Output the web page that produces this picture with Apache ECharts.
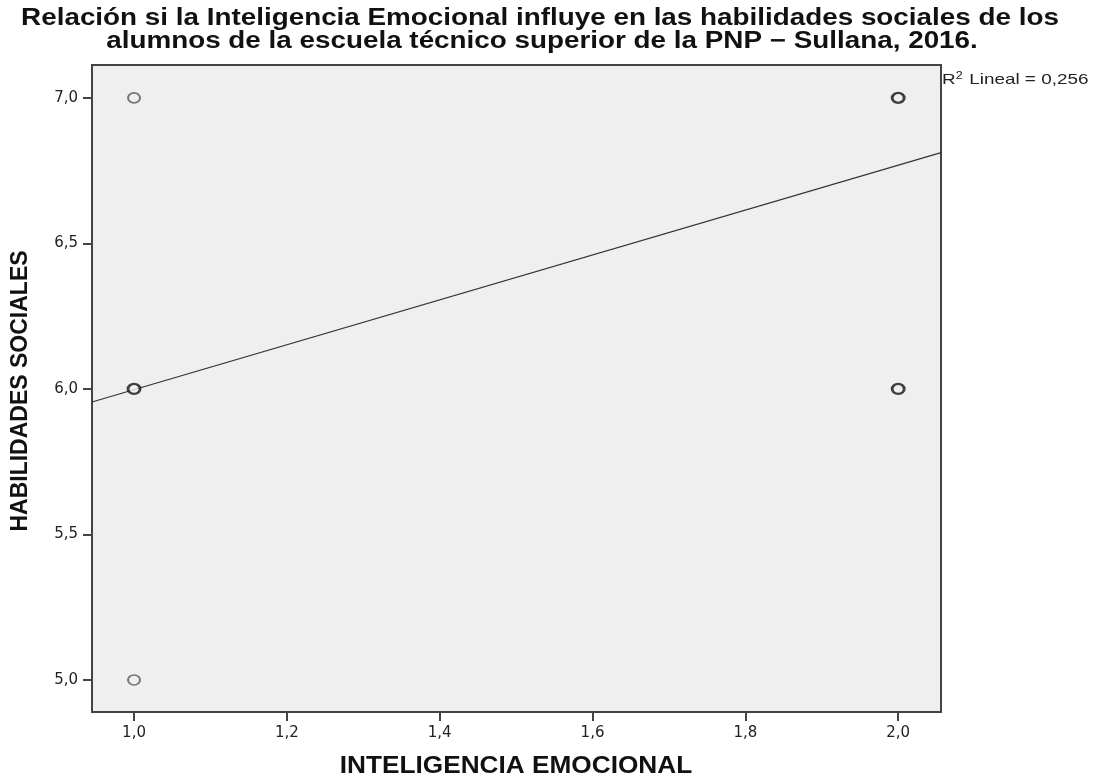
<!DOCTYPE html>
<html>
<head>
<meta charset="utf-8">
<script src="https://cdn.jsdelivr.net/npm/echarts@6/dist/echarts.min.js"></script>
<style>html,body{margin:0;padding:0;background:#fff}#c{width:1101px;height:780px}</style>
</head>
<body>
<div id="c"></div>
<script>
// Data
const titleLines = ['Relación si la Inteligencia Emocional influye en las habilidades sociales de los', 'alumnos de la escuela técnico superior de la PNP − Sullana, 2016.'];
const xName = 'INTELIGENCIA EMOCIONAL';
const yName = 'HABILIDADES SOCIALES';
const singlePoints = [[1, 7], [1, 5]];
const multiPoints = [[1, 6], [2, 7], [2, 6]];
const fitLine = [[0.945, 5.955], [2.056, 6.812]];
const xTicks = [1.0, 1.2, 1.4, 1.6, 1.8, 2.0];
const yTicks = [5.0, 5.5, 6.0, 6.5, 7.0];
const r2Text = '0,256';

const F = 'Liberation Sans, Arial, sans-serif';
const fmt = v => Number(v).toFixed(1).replace('.', ',');
const chart = echarts.init(document.getElementById('c'));
chart.setOption({
  backgroundColor: '#fff',
  animation: false,
  grid: { left: 92, top: 65, right: 160, bottom: 68, show: true, backgroundColor: '#efefef', borderColor: '#444', borderWidth: 2 },
  xAxis: {
    type: 'value', min: 0.945, max: 2.056,
    splitLine: { show: false },
    axisLine: { show: false },
    axisTick: { show: true, customValues: xTicks, length: 9, lineStyle: { color: '#444', width: 2 } },
    axisLabel: { customValues: xTicks, formatter: fmt, fontFamily: 'DejaVu Sans', fontSize: 15, color: '#222', margin: 14 }
  },
  yAxis: {
    type: 'value', min: 4.89, max: 7.113,
    splitLine: { show: false },
    axisLine: { show: false },
    axisTick: { show: true, customValues: yTicks, length: 9, lineStyle: { color: '#444', width: 2 } },
    axisLabel: { customValues: yTicks, formatter: fmt, fontFamily: 'DejaVu Sans', fontSize: 15, color: '#222', margin: 14 }
  },
  graphic: [
    { type: 'text', x: 540, y: 19, scaleX: 1.21, style: { text: titleLines[0], font: 'bold 23px ' + F, fill: '#111', align: 'center', verticalAlign: 'middle' } },
    { type: 'text', x: 542, y: 42, scaleX: 1.21, style: { text: titleLines[1], font: 'bold 23px ' + F, fill: '#111', align: 'center', verticalAlign: 'middle' } },
    { type: 'text', x: 516, y: 767, scaleX: 1.14, style: { text: xName, font: 'bold 23px ' + F, fill: '#111', align: 'center', verticalAlign: 'middle' } },
    { type: 'text', x: 21, y: 391, rotation: Math.PI / 2, style: { text: yName, font: 'bold 23px ' + F, fill: '#111', align: 'center', verticalAlign: 'middle' } },
    { type: 'text', x: 942, y: 80, scaleX: 1.26, style: {
      verticalAlign: 'middle', align: 'left',
      rich: { n: { fontFamily: F, fontSize: 15, fill: '#222' }, s: { fontFamily: F, fontSize: 10, fill: '#222', verticalAlign: 'top', padding: [0, 1, 8, 0] } },
      text: '{n|R}{s|2}{n| Lineal = ' + r2Text + '}'
    } }
  ],
  series: [
    { type: 'line', data: fitLine, symbol: 'none', lineStyle: { color: '#333', width: 1.2 }, z: 2, silent: true },
    { type: 'scatter', data: singlePoints, symbol: 'circle', symbolSize: [12, 10], itemStyle: { color: 'transparent', borderColor: '#555', borderWidth: 1.8 }, z: 3 },
    { type: 'scatter', data: multiPoints, symbol: 'circle', symbolSize: [12, 10], itemStyle: { color: '#efefef', borderColor: '#111', borderWidth: 2.6 }, z: 3 }
  ]
});
</script>
</body>
</html>
